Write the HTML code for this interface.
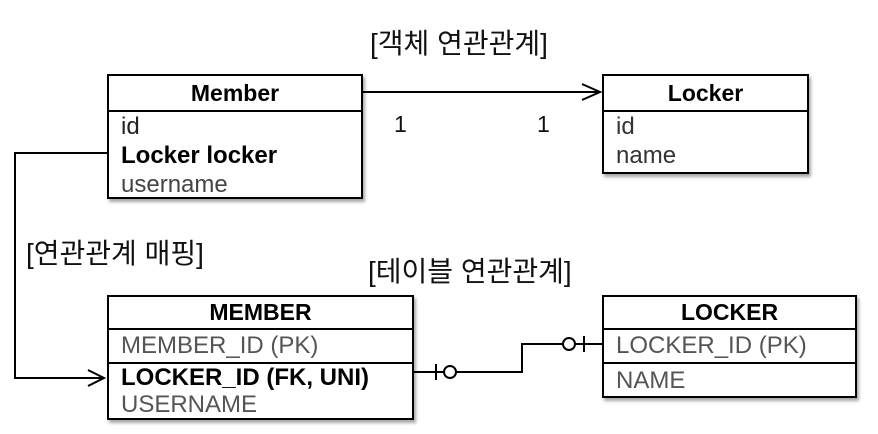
<!DOCTYPE html>
<html><head><meta charset="utf-8"><style>
body{margin:0;background:#fff;width:878px;height:434px;overflow:hidden;position:relative;font-family:"Liberation Sans","Noto Sans CJK KR",sans-serif;}
.t{position:absolute;white-space:nowrap;color:#111;}
.box{position:absolute;border:2px solid #000;box-sizing:border-box;box-shadow:2px 3px 3px rgba(0,0,0,.35);background:#fff;}
</style></head><body>
<svg width="878" height="434" style="position:absolute;left:0;top:0" xmlns="http://www.w3.org/2000/svg">
<g fill="none" stroke="#000" stroke-width="2">
<line x1="362" y1="92" x2="600" y2="92"/>
<polyline points="582,84 600,92 582,100"/>
<polyline points="108,153 15,153 15,378 104,378"/>
<polyline points="88,370 104,378 88,386"/>
<polyline points="413,372 522,372 522,344 603,344"/>
<line x1="436" y1="364" x2="436" y2="380"/>
<circle cx="450" cy="372" r="6" fill="#fff"/>
<circle cx="569" cy="344" r="6" fill="#fff"/>
<line x1="584" y1="336" x2="584" y2="352"/>
</g>
</svg>
<div class="t" style="left:370px;top:22px;font-size:28px">[객체 연관관계]</div>
<div class="t" style="left:26px;top:232px;font-size:28px">[연관관계 매핑]</div>
<div class="t" style="left:368px;top:250px;font-size:28px">[테이블 연관관계]</div>
<div class="t" style="left:394px;top:111px;font-size:23px">1</div>
<div class="t" style="left:537px;top:111px;font-size:23px">1</div>

<div class="box" style="left:107px;top:74px;width:256px;height:125px">
<div style="height:34px;border-bottom:2px solid #000;text-align:center;font-size:23px;font-weight:bold;line-height:34px">Member</div>
<div style="padding-left:12px;font-size:24px;line-height:29px;color:#222">id<br><b style="color:#000">Locker locker</b><br><span style="color:#444">username</span></div>
</div>
<div class="box" style="left:602px;top:74px;width:207px;height:100px">
<div style="height:34px;border-bottom:2px solid #000;text-align:center;font-size:23px;font-weight:bold;line-height:34px">Locker</div>
<div style="padding-left:12px;font-size:24px;line-height:29px;color:#333">id<br>name</div>
</div>

<div class="box" style="left:107px;top:295px;width:307px;height:125px">
<div style="height:31px;border-bottom:2px solid #000;text-align:center;font-size:23px;font-weight:bold;line-height:31px">MEMBER</div>
<div style="height:32px;border-bottom:2px solid #000;padding-left:12px;font-size:24px;line-height:32px;color:#555">MEMBER_ID (PK)</div>
<div style="padding-left:12px;font-size:24px;line-height:27px;"><b>LOCKER_ID (FK, UNI)</b><br><span style="color:#555">USERNAME</span></div>
</div>
<div class="box" style="left:602px;top:295px;width:255px;height:103px">
<div style="height:31px;border-bottom:2px solid #000;text-align:center;font-size:23px;font-weight:bold;line-height:31px">LOCKER</div>
<div style="height:32px;border-bottom:2px solid #000;padding-left:12px;font-size:24px;line-height:32px;color:#555">LOCKER_ID (PK)</div>
<div style="padding-left:12px;font-size:24px;line-height:34px;color:#555">NAME</div>
</div>
</body></html>
